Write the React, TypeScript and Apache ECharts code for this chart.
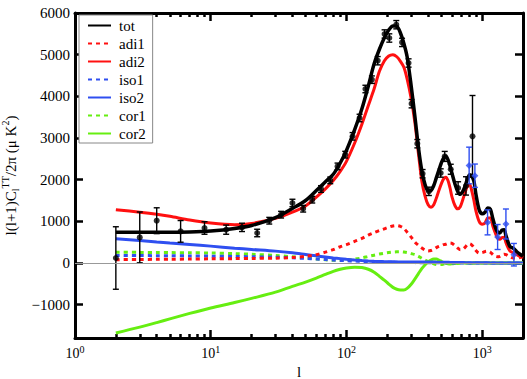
import React, { useEffect, useRef } from 'react';
import * as echarts from 'echarts';

// multipole grid used by all theory curves
const L = [2, 3, 4, 5, 7, 10, 15, 20, 30, 40, 50, 60, 70, 80, 90, 100, 115, 130, 145, 160, 175, 190, 205, 220, 235, 250, 265, 280, 300, 320, 340, 360, 380, 400, 420, 440, 460, 480, 500, 520, 540, 560, 580, 600, 630, 660, 690, 720, 750, 780, 810, 840, 870, 900, 950, 1000, 1050, 1100, 1150, 1200, 1250, 1300, 1350, 1400, 1450, 1500, 1600, 1700, 1800, 1900, 2000];

const TOT = [740, 738, 736, 736, 745, 770, 830, 900, 1090, 1310, 1500, 1740, 1950, 2130, 2400, 2700, 3200, 3700, 4250, 4780, 5130, 5400, 5590, 5690, 5680, 5520, 5270, 4950, 4250, 3500, 2750, 2200, 1880, 1730, 1740, 1860, 2050, 2230, 2400, 2520, 2560, 2480, 2330, 2150, 1900, 1720, 1650, 1720, 1850, 2020, 2120, 2080, 1960, 1650, 1280, 1180, 1220, 1320, 1290, 1060, 860, 740, 720, 790, 800, 650, 400, 350, 270, 210, 160];

const ADI1 = [80, 85, 88, 90, 95, 100, 105, 110, 115, 130, 160, 200, 260, 320, 390, 440, 520, 590, 670, 730, 780, 820, 860, 890, 900, 880, 830, 740, 620, 500, 420, 360, 310, 290, 300, 330, 370, 400, 420, 440, 450, 470, 480, 470, 420, 360, 320, 330, 380, 440, 460, 430, 370, 300, 240, 250, 275, 285, 260, 200, 160, 150, 160, 190, 210, 200, 150, 120, 120, 130, 150];

const ADI2 = [1280, 1220, 1170, 1120, 1030, 960, 920, 950, 1070, 1220, 1370, 1580, 1780, 1980, 2200, 2440, 2880, 3330, 3780, 4180, 4600, 4850, 4970, 5000, 4950, 4840, 4700, 4420, 3950, 3350, 2600, 1950, 1600, 1400, 1340, 1400, 1560, 1740, 1900, 2020, 2060, 1980, 1800, 1580, 1380, 1300, 1350, 1520, 1700, 1850, 1880, 1720, 1500, 1250, 1000, 930, 960, 1080, 1080, 880, 720, 600, 570, 610, 620, 480, 290, 240, 200, 160, 190];

const ISO1 = [180, 178, 176, 174, 170, 165, 158, 150, 140, 125, 110, 95, 82, 70, 62, 55, 47, 40, 35, 30, 26, 22, 20, 18, 16, 14, 13, 12, 10, 9, 8, 7, 6, 6, 5, 5, 5, 4, 4, 4, 4, 3, 3, 3, 3, 2, 2, 2, 2, 2, 2, 2, 1, 1, 1, 1, 1, 1, 1, 1, 1, 1, 0, 0, 0, 0, 0, 0, 0, 0, 0];

const ISO2 = [583, 540, 505, 480, 445, 405, 355, 325, 285, 245, 205, 172, 145, 122, 105, 90, 72, 58, 47, 40, 35, 32, 30, 28, 27, 26, 25, 25, 24, 24, 24, 24, 23, 23, 22, 22, 21, 20, 19, 18, 17, 16, 15, 14, 13, 12, 11, 10, 9, 8, 8, 7, 7, 6, 5, 5, 4, 4, 3, 3, 3, 2, 2, 2, 1, 1, 1, 0, 0, 0, 0];

const COR1 = [260, 255, 252, 250, 245, 240, 225, 210, 180, 150, 125, 98, 78, 66, 64, 72, 92, 122, 158, 188, 214, 234, 250, 262, 268, 268, 262, 250, 225, 200, 160, 112, 70, 35, 5, -20, -35, -40, -35, -25, -15, -5, 0, 0, -5, -10, -5, 0, 5, 0, -5, -5, 0, 5, 5, 0, -3, 0, 3, 0, 0, 0, 0, 0, 0, 0, 0, 0, 0, 0, 0];

const COR2 = [-1680, -1540, -1430, -1340, -1210, -1080, -950, -850, -700, -560, -460, -365, -275, -200, -150, -118, -100, -110, -150, -220, -320, -410, -505, -585, -630, -648, -650, -610, -510, -380, -250, -130, -40, 25, 72, 95, 95, 72, 42, 12, -8, -20, -25, -20, -10, 0, 5, 5, 0, 0, -3, -3, 0, 3, 3, 0, 0, 0, 0, 0, 0, 0, 0, 0, 0, 0, 0, 0, 0, 0, 0];

// measured band powers (black) with 1-sigma errors
const DATA_L = [2, 3, 4, 6, 9, 13, 17, 22, 27, 33, 40, 48, 56, 65, 76, 86, 98, 111, 125, 138, 154, 170, 191, 207, 233, 257, 287, 302, 333, 364, 405, 495, 530, 587, 665, 760, 849];
const DATA_V = [120, 614, 1015, 759, 840, 800, 855, 720, 1015, 1160, 1440, 1303, 1520, 1776, 1983, 2318, 2600, 3040, 3480, 4176, 4400, 4855, 5496, 5400, 5719, 5294, 4800, 3823, 2863, 2143, 1720, 2160, 2558, 2250, 1800, 1850, 3040];
const DATA_E = [750, 610, 310, 260, 150, 110, 100, 90, 80, 80, 90, 80, 80, 80, 80, 80, 80, 90, 90, 90, 90, 100, 100, 100, 100, 100, 100, 100, 100, 100, 100, 100, 120, 120, 150, 220, 980];

// high-l band powers (blue)
const HI_L = [802, 884, 1096, 1300, 1497, 1714];
const HI_V = [2340, 2095, 975, 624, 936, 199];
const HI_E = [440, 280, 300, 300, 360, 270];

const X_MAJOR = [1, 10, 100, 1000];
const X_MINOR = [2, 3, 4, 5, 6, 7, 8, 9, 20, 30, 40, 50, 60, 70, 80, 90, 200, 300, 400, 500, 600, 700, 800, 900];
const Y_TICKS = [-1000, 0, 1000, 2000, 3000, 4000, 5000, 6000];

const SERIF = 'Liberation Serif';
const RED = '#ff1010';
const BLUE = '#2f4ff0';
const GREEN = '#66ee11';

export default function App() {
  const ref = useRef<HTMLDivElement>(null);
  useEffect(() => {
    const chart = echarts.init(ref.current!, null, { renderer: 'svg' });
    const pts = (ys: number[]) => L.map((l, i) => [l, ys[i]]);
    const curve = (name: string, ys: number[], color: string, dashed: boolean, width = 3, z = 2) => ({
      name,
      type: 'line',
      data: pts(ys),
      symbol: 'none',
      smooth: 0.3,
      z,
      lineStyle: { color, width, type: dashed ? [4, 4] : 'solid' },
      itemStyle: { color },
    });
    const errRender = (color: string) => (params: any, api: any) => {
      const l = api.value(0);
      const v = api.value(1);
      const e = api.value(2);
      const p0 = api.coord([l, v - e]);
      const p1 = api.coord([l, v + e]);
      const c = 3;
      const style = { stroke: color, lineWidth: 1.4 };
      return {
        type: 'group',
        children: [
          { type: 'line', shape: { x1: p0[0], y1: p0[1], x2: p1[0], y2: p1[1] }, style },
          { type: 'line', shape: { x1: p0[0] - c, y1: p0[1], x2: p0[0] + c, y2: p0[1] }, style },
          { type: 'line', shape: { x1: p1[0] - c, y1: p1[1], x2: p1[0] + c, y2: p1[1] }, style },
        ],
      };
    };
    const xBase = {
      type: 'log',
      logBase: 10,
      min: 1,
      max: 2000,
      splitLine: { show: false },
      minorTick: { show: false },
    };
    const tickStyle = { color: '#000', width: 2.5 };
    const option: any = {
      animation: false,
      backgroundColor: '#fff',
      textStyle: { fontFamily: SERIF },
      grid: { left: 75, right: 4, top: 13, bottom: 41, containLabel: false, outerBoundsMode: 'none' },
      legend: {
        orient: 'vertical',
        left: 79,
        top: 15,
        data: ['tot', 'adi1', 'adi2', 'iso1', 'iso2', 'cor1', 'cor2'],
        itemWidth: 23,
        itemHeight: 14,
        itemGap: 3,
        padding: [3, 7, 2, 8],
        borderColor: '#888',
        borderWidth: 1,
        backgroundColor: '#fff',
        selectedMode: false,
        itemStyle: { opacity: 0 },
        textStyle: { fontFamily: SERIF, fontSize: 15, color: '#000', padding: [0, 0, 0, 3] },
      },
      xAxis: [
        {
          ...xBase,
          position: 'bottom',
          axisLine: { show: true, onZero: false, lineStyle: { color: '#000', width: 3 } },
          axisTick: { show: true, inside: true, length: 8, lineStyle: tickStyle, customValues: X_MAJOR },
          axisLabel: {
            customValues: X_MAJOR,
            margin: 6,
            formatter: (v: number) => `{b|10}{s|${Math.round(Math.log10(v))}}`,
            rich: {
              b: { fontFamily: SERIF, fontSize: 14, color: '#000', lineHeight: 18 },
              s: { fontFamily: SERIF, fontSize: 10, color: '#000', verticalAlign: 'top' },
            },
          },
          name: 'l',
          nameLocation: 'middle',
          nameGap: 24,
          nameTextStyle: { fontFamily: SERIF, fontSize: 15, color: '#000' },
        },
        {
          ...xBase,
          position: 'bottom',
          axisLine: { show: false, onZero: false },
          axisTick: { show: true, inside: true, length: 4, lineStyle: tickStyle, customValues: X_MINOR },
          axisLabel: { show: false },
        },
        {
          ...xBase,
          position: 'top',
          axisLine: { show: true, onZero: false, lineStyle: { color: '#000', width: 3 } },
          axisTick: { show: true, inside: true, length: 8, lineStyle: tickStyle, customValues: X_MAJOR },
          axisLabel: { show: false },
        },
        {
          ...xBase,
          position: 'top',
          axisLine: { show: false, onZero: false },
          axisTick: { show: true, inside: true, length: 4, lineStyle: tickStyle, customValues: X_MINOR },
          axisLabel: { show: false },
        },
      ],
      yAxis: [
        {
          type: 'value',
          min: -1800,
          max: 6000,
          position: 'left',
          splitLine: { show: false },
          axisLine: { show: true, onZero: false, lineStyle: { color: '#000', width: 3 } },
          axisTick: { show: true, inside: true, length: 8, lineStyle: tickStyle, customValues: Y_TICKS },
          axisLabel: {
            customValues: Y_TICKS,
            margin: 5,
            fontFamily: SERIF,
            fontSize: 15,
            color: '#000',
            formatter: (v: number) => (v < 0 ? '\u2212' + Math.abs(v) : String(v)),
          },
          name: '{a|l(l+1)C}{b|l}{c|TT}{a|/2π (μ K}{c|2}{a|)}',
          nameLocation: 'middle',
          nameRotate: 90,
          nameGap: 52,
          nameTextStyle: {
            rich: {
              a: { fontFamily: SERIF, fontSize: 15, color: '#000', lineHeight: 20 },
              b: { fontFamily: SERIF, fontSize: 10, color: '#000', verticalAlign: 'bottom' },
              c: { fontFamily: SERIF, fontSize: 10, color: '#000', verticalAlign: 'top' },
            },
          },
        },
        {
          type: 'value',
          min: -1800,
          max: 6000,
          position: 'right',
          splitLine: { show: false },
          axisLine: { show: true, onZero: false, lineStyle: { color: '#000', width: 3 } },
          axisTick: { show: true, inside: true, length: 8, lineStyle: tickStyle, customValues: Y_TICKS },
          axisLabel: { show: false },
        },
      ],
      series: [
        {
          name: 'zero',
          type: 'line',
          data: [],
          z: 1,
          markLine: {
            silent: true,
            symbol: 'none',
            label: { show: false },
            lineStyle: { color: '#999', width: 1, type: 'solid' },
            data: [{ yAxis: 0 }],
          },
        },
        curve('cor2', COR2, GREEN, false),
        curve('cor1', COR1, GREEN, true),
        curve('iso2', ISO2, BLUE, false),
        curve('iso1', ISO1, BLUE, true),
        curve('adi1', ADI1, RED, true),
        curve('adi2', ADI2, RED, false),
        curve('tot', TOT, '#000', false, 3.5, 3),
        {
          name: 'dataErr',
          type: 'custom',
          z: 4,
          renderItem: errRender('#000'),
          encode: { x: 0, y: 1 },
          data: DATA_L.map((l, i) => [l, DATA_V[i], DATA_E[i]]),
        },
        {
          name: 'data',
          type: 'scatter',
          z: 5,
          symbol: 'circle',
          symbolSize: 6,
          itemStyle: { color: '#000' },
          data: DATA_L.map((l, i) => [l, DATA_V[i]]),
        },
        {
          name: 'hiErr',
          type: 'custom',
          z: 4,
          renderItem: errRender(BLUE),
          encode: { x: 0, y: 1 },
          data: HI_L.map((l, i) => [l, HI_V[i], HI_E[i]]),
        },
        {
          name: 'hi',
          type: 'scatter',
          z: 5,
          symbol: 'diamond',
          symbolSize: 7,
          itemStyle: { color: BLUE },
          data: HI_L.map((l, i) => [l, HI_V[i]]),
        },
      ],
    };
    chart.setOption(option);
    return () => chart.dispose();
  }, []);
  return (
    <div
      ref={ref}
      style={{ position: 'absolute', left: 0, top: 0, width: 527, height: 379, background: '#fff' }}
    />
  );
}
